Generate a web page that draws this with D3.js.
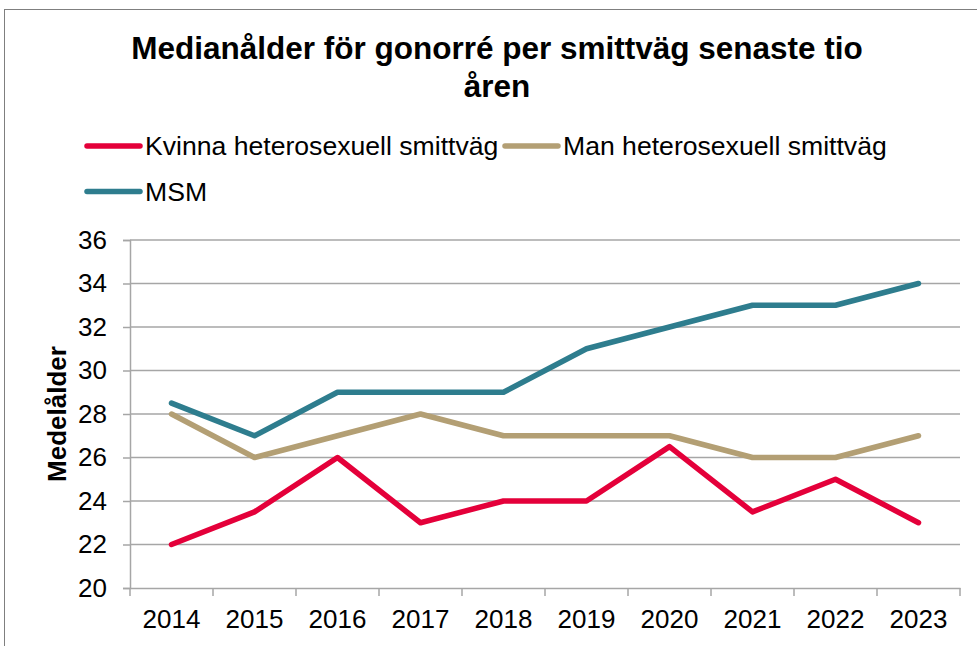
<!DOCTYPE html>
<html>
<head>
<meta charset="utf-8">
<script src="https://cdn.jsdelivr.net/npm/d3@7"></script>
<style>
  body { margin: 0; background: #fff; }
  svg { display: block; font-family: "Liberation Sans", Arial, sans-serif; }
</style>
</head>
<body>
<svg id="chart" width="977" height="646"></svg>
<script>
// data
var years = ["2014","2015","2016","2017","2018","2019","2020","2021","2022","2023"]
var kvinna = [22, 23.5, 26, 23, 24, 24, 26.5, 23.5, 25, 23]
var man = [28, 26, 27, 28, 27, 27, 27, 26, 26, 27]
var msm = [28.5, 27, 29, 29, 29, 31, 32, 33, 33, 34]
var yTicks = [20, 22, 24, 26, 28, 30, 32, 34, 36]
var seriesNames = ["Kvinna heterosexuell smittväg", "Man heterosexuell smittväg", "MSM"]
var seriesColors = ["#e4003a", "#b39f74", "#2e7d8e"]

var svg = d3.select("#chart")
var plotLeft = 130, plotRight = 960, plotTop = 240, plotBottom = 588
var gridColor = "#a6a6a6"

// outer frame (cut off at right and bottom like the screenshot)
svg.append("rect").attr("x", 4.5).attr("y", 9.5).attr("width", 1000).attr("height", 700)
  .attr("fill", "none").attr("stroke", "#7f7f7f").attr("stroke-width", 1)

// title
svg.append("text").attr("x", 497).attr("y", 59).attr("text-anchor", "middle")
  .style("font-size", "31.5px").style("font-weight", "bold").text("Medianålder för gonorré per smittväg senaste tio")
svg.append("text").attr("x", 497).attr("y", 97).attr("text-anchor", "middle")
  .style("font-size", "31.5px").style("font-weight", "bold").text("åren")

var x = d3.scaleBand().domain(years).range([plotLeft, plotRight])
var y = d3.scaleLinear().domain([20, 36]).range([plotBottom, plotTop])

// y axis
var yAxis = svg.append("g").attr("transform", "translate(" + plotLeft + ",0)")
  .call(d3.axisLeft(y).tickValues(yTicks).tickSize(7).tickPadding(16))
yAxis.select(".domain").attr("stroke", gridColor).attr("stroke-width", 1.5)
yAxis.selectAll(".tick line").attr("stroke", gridColor).attr("stroke-width", 1.5)
yAxis.selectAll(".tick text").style("font-size", "26px").attr("fill", "#000")
  .style("font-family", "Liberation Sans, Arial, sans-serif")

// horizontal grid
svg.append("g").selectAll("line").data(yTicks.slice(1)).enter().append("line")
  .attr("x1", plotLeft).attr("x2", plotRight)
  .attr("y1", function(d){ return y(d) }).attr("y2", function(d){ return y(d) })
  .attr("stroke", gridColor).attr("stroke-width", 1.5)

// x axis, ticks sit between the categories
var xAxis = svg.append("g").attr("transform", "translate(0," + plotBottom + ")")
  .call(d3.axisBottom(x).tickSize(0).tickPadding(22))
xAxis.select(".domain").attr("stroke", gridColor).attr("stroke-width", 1.5)
xAxis.selectAll(".tick text").style("font-size", "26px").attr("fill", "#000")
  .style("font-family", "Liberation Sans, Arial, sans-serif")
var bounds = years.map(function(d){ return x(d) }).concat([x(years[years.length-1]) + x.bandwidth()])
svg.append("g").selectAll("line").data(bounds).enter().append("line")
  .attr("x1", function(d){ return d }).attr("x2", function(d){ return d })
  .attr("y1", plotBottom).attr("y2", plotBottom + 8)
  .attr("stroke", gridColor).attr("stroke-width", 1.5)

// axis title
svg.append("text").attr("transform", "translate(66," + ((plotTop + plotBottom) / 2) + ") rotate(-90)")
  .attr("text-anchor", "middle").style("font-size", "26px").style("font-weight", "bold").text("Medelålder")

// lines
var line = d3.line().x(function(d, i){ return x(years[i]) + x.bandwidth() / 2 }).y(function(d){ return y(d) })
var allSeries = [kvinna, man, msm]
;[1, 2, 0].forEach(function(k){
  svg.append("path").datum(allSeries[k]).attr("d", line)
    .attr("fill", "none").attr("stroke", seriesColors[k]).attr("stroke-width", 5.5)
    .attr("stroke-linecap", "round").attr("stroke-linejoin", "round")
})

// legend
var legendPos = [[85, 146], [503, 146], [85, 191.5]]
seriesNames.forEach(function(name, i){
  var p = legendPos[i]
  svg.append("line").attr("x1", p[0] + 2).attr("x2", p[0] + 55).attr("y1", p[1]).attr("y2", p[1])
    .attr("stroke", seriesColors[i]).attr("stroke-width", 5.5).attr("stroke-linecap", "round")
  svg.append("text").attr("x", p[0] + 60).attr("y", p[1] + 9).style("font-size", "26.6px").text(name)
})
</script>
</body>
</html>
